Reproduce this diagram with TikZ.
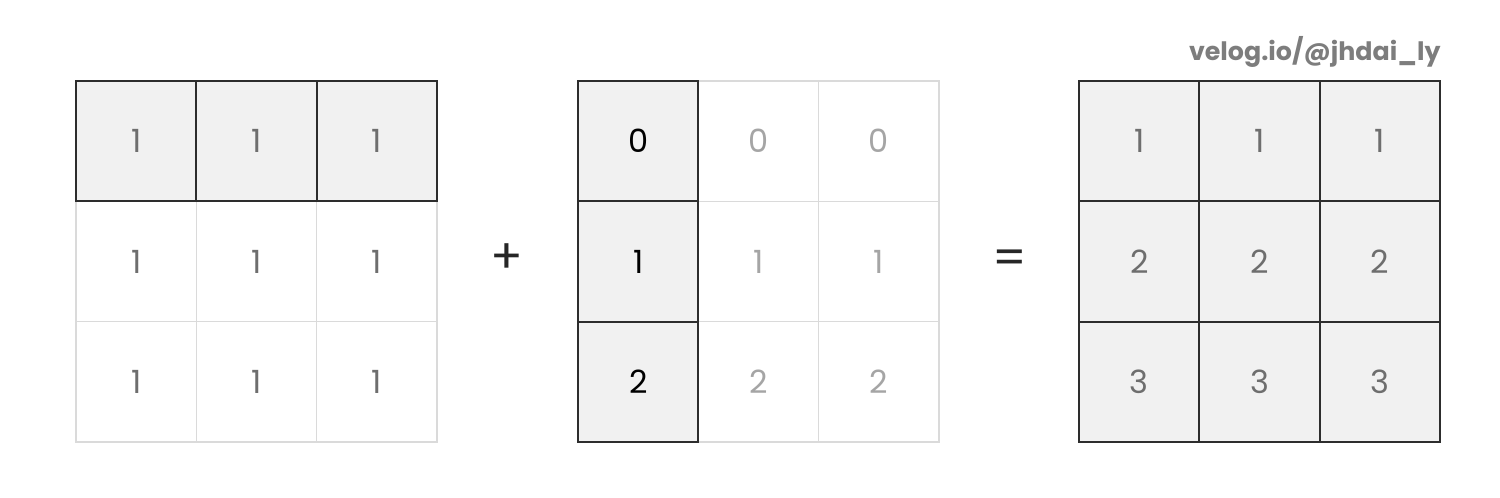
\documentclass[tikz,border=0pt]{standalone}
\usepackage{fontspec}
\setmainfont{Poppins}
\definecolor{cellfill}{RGB}{241,241,241}
\definecolor{gridlight}{RGB}{218,218,218}
\definecolor{griddark}{RGB}{45,45,45}
\definecolor{numgray}{RGB}{110,110,110}
\definecolor{numlight}{RGB}{165,165,165}
\definecolor{marktext}{RGB}{125,125,125}
\tikzset{every picture/.style={line width=0.75pt}}
\tikzset{
  cell/.style={draw=gridlight, line width=1pt, minimum size=90.2pt, inner sep=0pt,
    font=\fontsize{24}{28}\selectfont, text=numgray},
  hicell/.style={cell, draw=griddark, line width=1.6pt, fill=cellfill},
  lightnum/.style={text=numlight},
  darknum/.style={text=black},
  opsign/.style={font=\fontsize{36}{40}\selectfont, text=black!85}
}

\begin{document}
\begin{tikzpicture}[x=0.75pt,y=0.75pt,yscale=-1,xscale=1]
\useasboundingbox (0,0) rectangle (1500,498);

% Left matrix
\node[cell] (a21) at (136.2,261.5) {1};
\node[cell] (a22) at (256.5,261.5) {1};
\node[cell] (a23) at (376.8,261.5) {1};
\node[cell] (a31) at (136.2,381.8) {1};
\node[cell] (a32) at (256.5,381.8) {1};
\node[cell] (a33) at (376.8,381.8) {1};
\node[hicell] (a11) at (136.2,141.2) {1};
\node[hicell] (a12) at (256.5,141.2) {1};
\node[hicell] (a13) at (376.8,141.2) {1};

% Plus
\node[opsign] (plus) at (507,259) {+};

% Middle matrix
\node[cell, lightnum] (b12) at (758.5,141.2) {0};
\node[cell, lightnum] (b13) at (878.8,141.2) {0};
\node[cell, lightnum] (b22) at (758.5,261.5) {1};
\node[cell, lightnum] (b23) at (878.8,261.5) {1};
\node[cell, lightnum] (b32) at (758.5,381.8) {2};
\node[cell, lightnum] (b33) at (878.8,381.8) {2};
\node[hicell, darknum] (b11) at (638.2,141.2) {0};
\node[hicell, darknum] (b21) at (638.2,261.5) {1};
\node[hicell, darknum] (b31) at (638.2,381.8) {2};

% Equals
\node[opsign] (eq) at (1010,262) {=};

% Right matrix
\node[hicell] (c11) at (1139.2,141.2) {1};
\node[hicell] (c12) at (1259.5,141.2) {1};
\node[hicell] (c13) at (1379.8,141.2) {1};
\node[hicell] (c21) at (1139.2,261.5) {2};
\node[hicell] (c22) at (1259.5,261.5) {2};
\node[hicell] (c23) at (1379.8,261.5) {2};
\node[hicell] (c31) at (1139.2,381.8) {3};
\node[hicell] (c32) at (1259.5,381.8) {3};
\node[hicell] (c33) at (1379.8,381.8) {3};

% Watermark
\node[anchor=east, inner sep=0pt, text=marktext, font=\fontsize{19}{22}\selectfont\bfseries] (mark) at (1441,52) {velog.io/@jhdai\_ly};

\end{tikzpicture}
\end{document}
